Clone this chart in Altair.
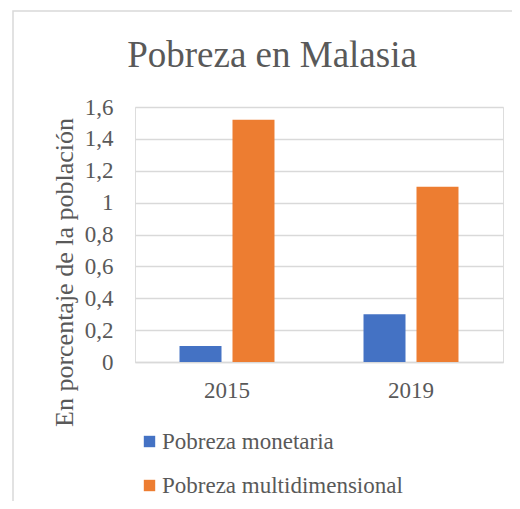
import altair as alt
import pandas as pd

years = ["2015", "2015", "2019", "2019"]
series = ["Pobreza monetaria", "Pobreza multidimensional",
          "Pobreza monetaria", "Pobreza multidimensional"]
values = [0.1, 1.52, 0.3, 1.1]

series_order = ["Pobreza monetaria", "Pobreza multidimensional"]
colors = ["#4472C4", "#ED7D31"]
y_ticks = [0, 0.2, 0.4, 0.6, 0.8, 1.0, 1.2, 1.4, 1.6]
title_text = ["Pobreza en Malasia"]

df = pd.DataFrame({"year": years, "series": series, "value": values})

FONT = "'Times New Roman', 'Liberation Serif', Times, serif"
GRAY = "#595959"
LINE = "#d9d9d9"

bars = alt.Chart(df).mark_bar().encode(
    x=alt.X("year:N", title=None,
            scale=alt.Scale(paddingInner=0, paddingOuter=0),
            axis=alt.Axis(labelAngle=0, ticks=False, domain=True,
                          domainColor=LINE, domainWidth=1.5,
                          labelPadding=17)),
    xOffset=alt.XOffset("series:N", sort=series_order,
                        scale=alt.Scale(paddingInner=0.2075, paddingOuter=0.84)),
    y=alt.Y("value:Q", title="En porcentaje de la población",
            scale=alt.Scale(domain=[0, 1.6], nice=False),
            axis=alt.Axis(values=y_ticks, ticks=False, domain=False,
                          grid=True, gridColor=LINE, gridWidth=1.5,
                          labelExpr="replace(format(datum.value, '.1~f'), '.', ',')",
                          labelPadding=22, titleX=-58, titleY=165,
                          titleFontSize=26)),
    color=alt.Color("series:N", sort=series_order,
                    scale=alt.Scale(domain=series_order, range=colors),
                    legend=alt.Legend(title=None, orient="none", legendX=3,
                                      legendY=323, direction="vertical",
                                      symbolType="square", symbolSize=130,
                                      symbolStrokeWidth=0, labelLimit=0,
                                      labelOffset=1, rowPadding=20, padding=0)),
)

border = alt.Chart(pd.DataFrame({"a": [0]})).mark_rect(
    fill=None, stroke=LINE, strokeWidth=1.5
).encode(
    x=alt.value(-122), x2=alt.value(400),
    y=alt.value(-96), y2=alt.value(420),
)

title = alt.Chart(pd.DataFrame({"t": title_text})).mark_text(
    font=FONT, fontSize=37, color=GRAY, baseline="alphabetic", align="center"
).encode(text="t:N", x=alt.value(137), y=alt.value(-40))

chart = alt.layer(border, bars, title).properties(
    width=368, height=255,
    autosize=alt.AutoSizeParams(type="none"),
    padding={"left": 127, "top": 99, "right": 9, "bottom": 139},
).configure_view(stroke=None).configure(
    background="white", font=FONT
).configure_axis(
    labelFont=FONT, labelFontSize=23, labelColor=GRAY,
    titleFont=FONT, titleFontSize=26, titleColor=GRAY, titleFontWeight="normal",
).configure_legend(
    labelFont=FONT, labelFontSize=23, labelColor=GRAY,
)

chart.save("out.html", embed_options={"renderer": "svg", "actions": False})
